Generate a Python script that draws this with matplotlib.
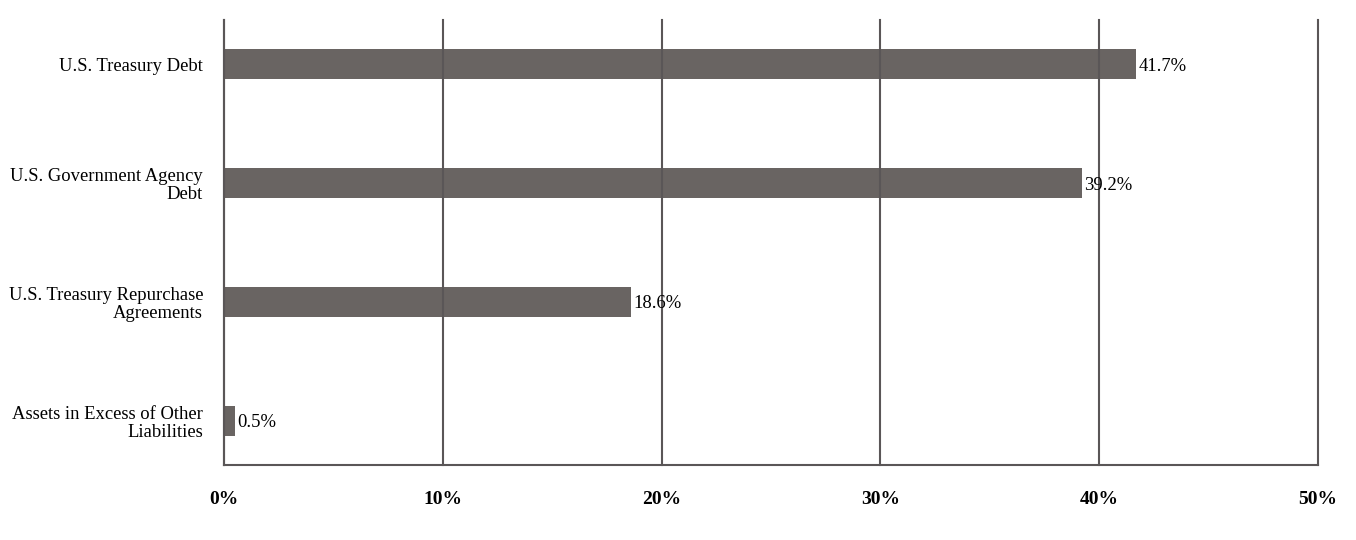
import matplotlib
matplotlib.use("Agg")
import matplotlib.pyplot as plt
from matplotlib.ticker import FuncFormatter, MultipleLocator

categories = ["U.S. Treasury Debt", "U.S. Government Agency\nDebt",
              "U.S. Treasury Repurchase\nAgreements", "Assets in Excess of Other\nLiabilities"]
values = [41.7, 39.2, 18.6, 0.5]
value_labels = ["41.7%", "39.2%", "18.6%", "0.5%"]

plt.rcParams['font.family'] = ['Liberation Serif', 'DejaVu Serif']

fig = plt.figure(figsize=(13.56, 5.4), dpi=100)
ax = fig.add_axes([224/1356, 1-465/540, (1318-224)/1356, (465-20)/540])

bar_color = "#696462"
line_color = "#5a5657"
fs = 13.4
ypos = list(range(len(categories)))
bars = ax.barh(ypos, values, height=0.245, color=bar_color, zorder=2)
for b, lab in zip(bars, value_labels):
    ax.text(b.get_width() + 0.1, b.get_y() + b.get_height()/2, lab,
            va='center_baseline', ha='left', fontsize=fs, color='black')

ax.set_xlim(0, 50)
ax.set_ylim(3.37, -0.37)
ax.set_yticks(ypos)
ax.set_yticklabels(categories, fontsize=fs, linespacing=1.1)
ax.xaxis.set_major_locator(MultipleLocator(10))
ax.xaxis.set_major_formatter(FuncFormatter(lambda v, p: f"{v:.0f}%"))
for t in ax.get_xticklabels():
    t.set_fontweight('bold')
ax.tick_params(axis='x', length=0, pad=19, labelsize=14)
ax.tick_params(axis='y', length=0, pad=15)
for s in ['top', 'right']:
    ax.spines[s].set_visible(False)
for s in ['left', 'bottom']:
    ax.spines[s].set_color(line_color)
    ax.spines[s].set_linewidth(1.5)
ax.grid(axis='x', color=line_color, linewidth=1.5, zorder=3)
for gl in ax.get_xgridlines():
    gl.set_clip_on(False)
ax.set_axisbelow(False)
ax.grid(axis='y', visible=False)

fig.savefig("out.png", dpi=100)
